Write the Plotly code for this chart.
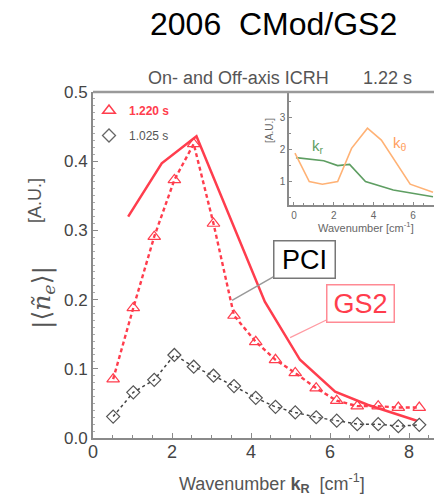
import plotly.graph_objects as go

# ---- data ----
k_exp = [0.51, 1.02, 1.55, 2.06, 2.55, 3.05, 3.57, 4.12, 4.62, 5.12, 5.65, 6.17, 6.69, 7.22, 7.73, 8.26]
ne_1220 = [0.085, 0.188, 0.291, 0.373, 0.425, 0.31, 0.177, 0.139, 0.113, 0.094, 0.072, 0.054, 0.046, 0.046, 0.044, 0.044]
ne_1025 = [0.031, 0.066, 0.084, 0.12, 0.103, 0.090, 0.075, 0.058, 0.045, 0.037, 0.030, 0.025, 0.020, 0.020, 0.017, 0.019]

k_gs2 = [0.89, 1.74, 2.62, 4.35, 5.24, 6.13, 6.95, 8.2]
ne_gs2 = [0.32, 0.397, 0.436, 0.197, 0.113, 0.067, 0.048, 0.025]

k_kr = [0.1, 1.5, 2.2, 2.8, 3.6, 5.0, 7.0]
s_kr = [1.76, 1.66, 1.51, 1.55, 1.01, 0.75, 0.54]
k_kth = [0.05, 0.77, 1.43, 2.2, 2.9, 3.7, 4.4, 5.85, 7.0]
s_kth = [1.9, 1.01, 0.93, 1.01, 2.05, 2.68, 2.31, 0.93, 0.68]

main_xticks = [0, 2, 4, 6, 8]
main_yticks = [0.0, 0.1, 0.2, 0.3, 0.4, 0.5]
inset_xticks = [0, 2, 4, 6]
inset_yticks = [1, 2, 3]

RED = "#ff3d4d"
GRAY = "#555555"
AX = "#8a8a8a"

W, H = 434, 496
L, R, T, B = 93, 0, 92, 58
PW, PH = W - L - R, H - T - B


def px(x):
    return (x - L) / PW


def py(y):
    return (H - B - y) / PH


fig = go.Figure()

# main series
fig.add_trace(go.Scatter(x=k_gs2, y=ne_gs2, mode="lines",
                         line=dict(color=RED, width=2.5), showlegend=False))
fig.add_trace(go.Scatter(x=k_exp, y=ne_1220, mode="lines+markers",
                         line=dict(color=RED, width=2.4, dash="4px,3px"),
                         marker=dict(symbol="triangle-up-open", size=11, color=RED, line=dict(width=1.2)),
                         showlegend=False))
fig.add_trace(go.Scatter(x=k_exp, y=ne_1025, mode="lines+markers",
                         line=dict(color="#444444", width=1.5, dash="dot"),
                         marker=dict(symbol="diamond-open", size=10, color="#555555", line=dict(width=1.2)),
                         showlegend=False))

# legend-only entries
fig.add_trace(go.Scatter(x=[None], y=[None], mode="markers", legendgroup="a",
                         marker=dict(symbol="triangle-up-open", size=11, color=RED, line=dict(width=1.5)),
                         name="<span style='color:%s'><b>1.220 s</b></span>" % RED))
fig.add_trace(go.Scatter(x=[None], y=[None], mode="markers", legendgroup="b",
                         marker=dict(symbol="diamond-open", size=10, color="#666666", line=dict(width=1.3)),
                         name="<span style='color:#555555'>1.025 s</span>"))

# inset series
fig.add_trace(go.Scatter(x=k_kr, y=s_kr, mode="lines", xaxis="x2", yaxis="y2",
                         line=dict(color="#5e9e62", width=1.6), showlegend=False))
fig.add_trace(go.Scatter(x=k_kth, y=s_kth, mode="lines", xaxis="x2", yaxis="y2",
                         line=dict(color="#ffb275", width=1.6), showlegend=False))

inset_x0 = px(289)
inset_y0 = py(205)

fig.update_layout(
    width=W, height=H,
    margin=dict(l=L, r=R, t=T, b=B),
    paper_bgcolor="white", plot_bgcolor="white",
    font=dict(family="Liberation Sans, Arial, sans-serif", color="#444444"),
    xaxis=dict(range=[0, PW / 39.5], tickvals=main_xticks, showgrid=False, zeroline=False,
               showline=True, linecolor=AX, linewidth=2, ticks="inside", ticklen=5,
               tickcolor=AX, tickfont=dict(size=18, color="#444444"), ticklabelstandoff=-4,
               minor=dict(dtick=0.5, ticks="inside", ticklen=3, tickcolor=AX)),
    yaxis=dict(range=[0, 0.5], tickvals=main_yticks, tickformat=".1f", showgrid=False,
               zeroline=False, showline=True, linecolor=AX, linewidth=2, ticks="inside",
               ticklen=5, tickcolor=AX, tickfont=dict(size=17, color="#444444"),
               minor=dict(dtick=0.01, ticks="inside", ticklen=2, tickcolor="#aaaaaa")),
    xaxis2=dict(domain=[inset_x0, 1], anchor="y2", range=[-0.25, 7.05], tickvals=inset_xticks,
                showgrid=False, zeroline=False, showline=True, linecolor=AX, linewidth=1.5,
                ticks="inside", ticklen=3, tickcolor=AX, tickfont=dict(size=10, color="#666666"),
                minor=dict(dtick=0.5, ticks="inside", ticklen=2, tickcolor=AX)),
    yaxis2=dict(domain=[inset_y0, 1], anchor="x2", range=[0.28, 3.81], tickvals=inset_yticks,
                showgrid=False, zeroline=False, showline=True, linecolor=AX, linewidth=1.5,
                ticks="inside", ticklen=3, tickcolor=AX, tickfont=dict(size=10, color="#666666"),
                minor=dict(dtick=0.5, ticks="inside", ticklen=2, tickcolor=AX)),
    legend=dict(x=px(89), y=py(96), xanchor="left", yanchor="top", bgcolor="rgba(0,0,0,0)",
                font=dict(size=12), tracegroupgap=6, itemwidth=30),
)

# inset white background and top frame
fig.add_shape(type="rect", xref="paper", yref="paper", x0=inset_x0, x1=1, y0=inset_y0, y1=1,
              fillcolor="white", line=dict(width=0), layer="below")
fig.add_shape(type="line", xref="paper", yref="paper", x0=0, x1=1, y0=1, y1=1,
              line=dict(color="#9a9a9a", width=2.5))

ann = []
ann.append(dict(text="2006  CMod/GS2", x=px(273), y=py(24), font=dict(size=32, color="black")))
ann.append(dict(text="On- and Off-axis ICRH", x=px(238), y=py(78), font=dict(size=18, color="#555555")))
ann.append(dict(text="1.22 s", x=px(387), y=py(78), font=dict(size=18, color="#555555")))
ann.append(dict(text="Wavenumber <b>k<sub>R</sub></b>  [cm<sup>-1</sup>]", x=px(272), y=py(483),
                font=dict(size=18, color="#555555")))
ann.append(dict(text="[A.U.]", x=px(35), y=py(201), textangle=-90, font=dict(size=18, color="#555555")))
ann.append(dict(text="|⟨<i>ñ<sub>e</sub></i>⟩|", x=px(43), y=py(298), textangle=-90,
                font=dict(size=25, color="#555555", family="DejaVu Serif, serif")))
# inset labels
ann.append(dict(text="Wavenumber [cm<sup>-1</sup>]", x=px(366), y=py(227), font=dict(size=11, color="#666666")))
ann.append(dict(text="[A.U.]", x=px(269), y=py(131), textangle=-90, font=dict(size=10, color="#666666")))

for a in ann:
    a.update(xref="paper", yref="paper", showarrow=False, xanchor="center", yanchor="middle")
    fig.add_annotation(**a)

fig.add_annotation(text="k<sub>r</sub>", x=1.2, y=2.1, xref="x2", yref="y2", showarrow=False,
                   font=dict(size=15, color="#5e9e62"))
fig.add_annotation(text="k<sub>θ</sub>", x=5.35, y=2.2, xref="x2", yref="y2", showarrow=False,
                   font=dict(size=15, color="#ffa060"))

# PCI / GS2 callouts
fig.add_annotation(text="PCI", x=3.52, y=0.199, xref="x", yref="y", ax=72, ay=-41,
                   showarrow=True, arrowhead=0, arrowwidth=1.5, arrowcolor="#999999",
                   font=dict(size=27, color="black"), bordercolor="#777777", borderwidth=1.5,
                   borderpad=2, bgcolor="white", width=56, height=32)
fig.add_annotation(text="GS2", x=4.99, y=0.145, xref="x", yref="y", ax=70, ay=-34,
                   showarrow=True, arrowhead=0, arrowwidth=1.2, arrowcolor="#ff9aa2",
                   font=dict(size=27, color=RED), bordercolor="#ff8a94", borderwidth=1.5,
                   borderpad=2, bgcolor="white", width=62, height=32)

fig.write_html("out.html")
